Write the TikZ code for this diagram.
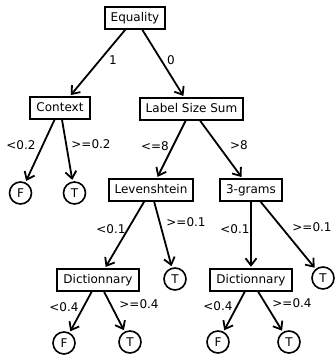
\documentclass[tikz,border=0pt]{standalone}
\usepackage{fontspec}
\setmainfont{DejaVu Sans}
\usetikzlibrary{arrows.meta}

\begin{document}
\begin{tikzpicture}[x=1pt, y=-1pt,
    font=\fontsize{12}{14}\selectfont,
    box/.style = {draw, line width=2pt, inner xsep=6pt, inner ysep=4.5pt,
                  text height=9.5pt, text depth=3pt},
    leaf/.style = {draw, circle, line width=1.6pt, minimum size=22pt, inner sep=0pt},
    edge/.style = {-{Straight Barb[length=7pt, width=11pt, line width=1.8pt]},
                   line width=1.8pt, shorten >= 1.5pt}]
    \useasboundingbox (0,0) rectangle (335,358);

    \node[box] (equality) at (135,18) {Equality};
    \node[box] (context) at (60,108) {Context};
    \node[box] (sizesum) at (191.5,109) {Label Size Sum};
    \node[leaf] (f1) at (20.5,193) {F};
    \node[leaf] (t1) at (74.5,193) {T};
    \node[box] (leven) at (151,190) {Levenshtein};
    \node[box] (grams) at (251,190) {3-grams};
    \node[box] (dictl) at (98,280) {Dictionnary};
    \node[leaf] (t2) at (175,279) {T};
    \node[box] (dictr) at (251,280) {Dictionnary};
    \node[leaf] (t3) at (323,278) {T};
    \node[leaf] (f2) at (64,343) {F};
    \node[leaf] (t4) at (130,342) {T};
    \node[leaf] (f3) at (218,342) {F};
    \node[leaf] (t5) at (289,342) {T};

    \draw[edge] (equality) -- (context);
    \draw[edge] (equality) -- (sizesum);
    \draw[edge] (context) -- (f1);
    \draw[edge] (context) -- (t1);
    \draw[edge] (sizesum) -- (leven);
    \draw[edge] (sizesum) -- (grams);
    \draw[edge] (leven) -- (dictl);
    \draw[edge] (leven) -- (t2);
    \draw[edge] (grams) -- (dictr);
    \draw[edge] (grams) -- (t3);
    \draw[edge] (dictl) -- (f2);
    \draw[edge] (dictl) -- (t4);
    \draw[edge] (dictr) -- (f3);
    \draw[edge] (dictr) -- (t5);

    \node (l1) at (113,60) {1};
    \node (l0) at (171,60) {0};
    \node (lctxa) at (21,145) {<0.2};
    \node (lctxb) at (91,144) {>=0.2};
    \node (lsuma) at (155,146) {<=8};
    \node (lsumb) at (239,145) {>8};
    \node (lleva) at (111,229) {<0.1};
    \node (llevb) at (186,222) {>=0.1};
    \node (lgrma) at (235,229) {<0.1};
    \node (lgrmb) at (312,227) {>=0.1};
    \node (ldla) at (64,307) {<0.4};
    \node (ldlb) at (139,304) {>=0.4};
    \node (ldra) at (218,306) {<0.4};
    \node (ldrb) at (292,303) {>=0.4};
\end{tikzpicture}
\end{document}
